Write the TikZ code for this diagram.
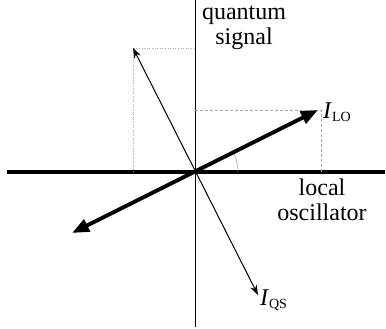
\documentclass[tikz,border=0pt]{standalone}
\usepackage{fontspec}
\setmainfont{Liberation Serif}
\usetikzlibrary{arrows.meta}

\tikzset{
  axis/.style={line width=0.8pt},
  lo axis/.style={line width=3.5pt},
  proj/.style={gray!70, line width=0.6pt},
  thick vec/.style={line width=4pt, {Triangle[length=17pt, width=13pt]}-{Triangle[length=17pt, width=13pt]}},
  thin vec/.style={line width=1pt, {Stealth[length=10pt, width=7pt]}-{Stealth[length=10pt, width=7pt]}},
  lbl/.style={font=\fontsize{24}{25}\selectfont, inner sep=0pt}
}
\newcommand{\lblsub}[2]{\textit{#1}\raisebox{-3pt}{\fontsize{14}{14}\selectfont #2}}

\begin{document}
\begin{tikzpicture}[x=1pt, y=1pt, yscale=-1]
\useasboundingbox (0,0) rectangle (386,329);
\coordinate (O) at (195,172);
\coordinate (top) at (195,0);
\coordinate (bot) at (195,327);
\coordinate (left) at (7,172);
\coordinate (right) at (385,172);
\coordinate (lo) at (318,110);
\coordinate (lob) at (72,233);
\coordinate (qs) at (133,48);
\coordinate (qsb) at (258,295);
\coordinate (lox) at (321,172);
\coordinate (loy) at (195,110);
\coordinate (lop) at (321,110);
\coordinate (qsx) at (133,172);
\coordinate (qsy) at (195,48);
% axes
\draw[axis] (top) -- (bot);
\draw[lo axis] (left) -- (right);
% projections
\draw[proj, dash pattern=on 3pt off 2pt] (loy) -- (lop) -- (lox);
\draw[proj, dotted] (qsx) -- (qs) -- (qsy);
% angle
\draw[gray!80, line width=0.5pt] (238,172) arc[start angle=0, end angle=-26.8, radius=43];
% vectors
\draw[thin vec] (qsb) -- (qs);
\draw[thick vec] (lob) -- (lo);
% labels
\node[lbl, align=center, anchor=base] (qslab) at (244,45) {quantum\\signal};
\node[lbl, align=center, anchor=base] (lolab) at (322,220) {local\\oscillator};
\node[lbl, anchor=base west] (ilo) at (323,118) {\lblsub{I}{LO}};
\node[lbl, anchor=base west] (iqs) at (260,305) {\lblsub{I}{QS}};
\end{tikzpicture}
\end{document}
